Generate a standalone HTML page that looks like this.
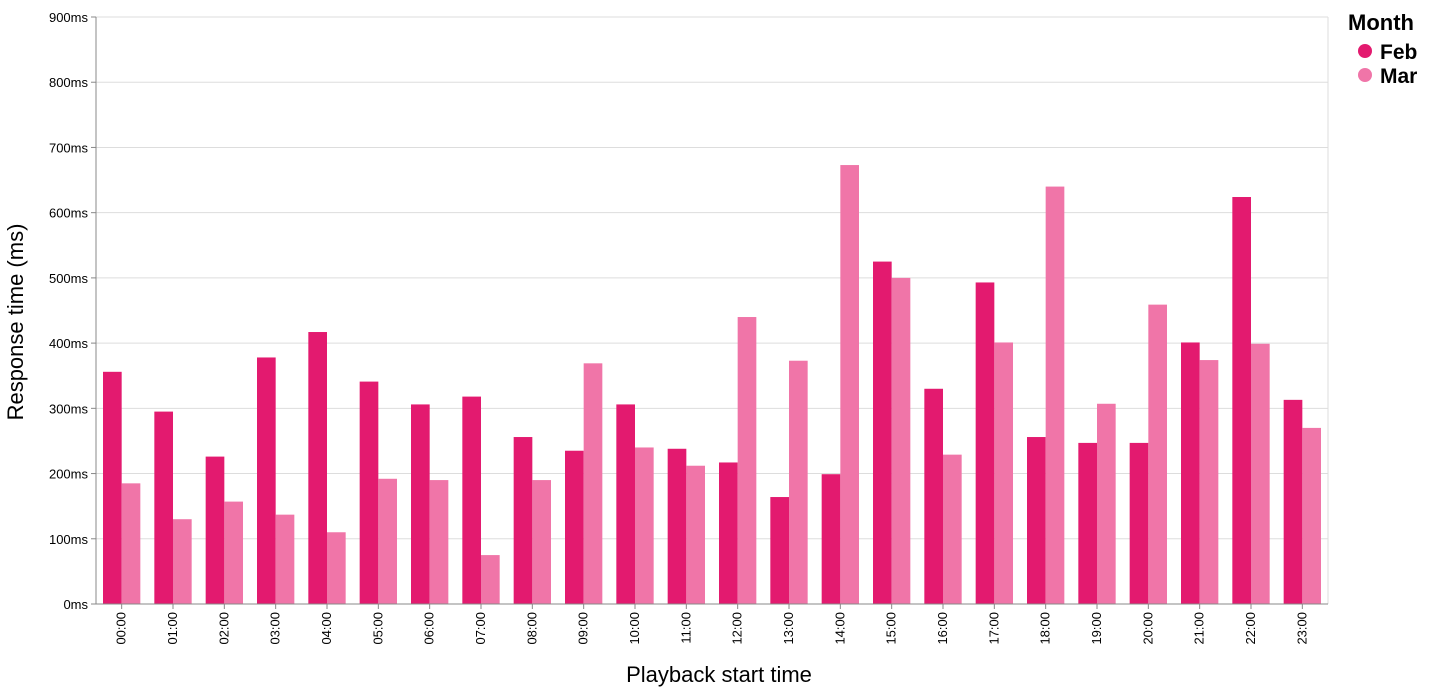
<!DOCTYPE html>
<html><head><meta charset="utf-8"><style>
body{margin:0;background:#fff;}
svg{display:block;font-family:"Liberation Sans",sans-serif;}
</style></head><body>
<svg id="chart" width="1444" height="690"></svg>
<script>
const categories=["00:00","01:00","02:00","03:00","04:00","05:00","06:00","07:00","08:00","09:00","10:00","11:00","12:00","13:00","14:00","15:00","16:00","17:00","18:00","19:00","20:00","21:00","22:00","23:00"];
const febValues=[356,295,226,378,417,341,306,318,256,235,306,238,217,164,199,525,330,493,256,247,247,401,624,313];
const marValues=[185,130,157,137,110,192,190,75,190,369,240,212,440,373,673,500,229,401,640,307,459,374,399,270];
const yTicks=[0,100,200,300,400,500,600,700,800,900];
const NS="http://www.w3.org/2000/svg";
const svg=document.getElementById('chart');
const X0=96,X1=1328,Y0=604,Y1=17,YMAX=900;
const bw=(X1-X0)/categories.length;
const y=v=>Y0-(v/YMAX)*(Y0-Y1);
const xb=i=>X0+i*bw;
function mk(t,a){const e=document.createElementNS(NS,t);for(const k in a)e.setAttribute(k,a[k]);svg.appendChild(e);return e;}
yTicks.forEach(t=>{
  const g=mk('line',{x1:X0,x2:X1,y1:y(t),y2:y(t),stroke:'#ddd','stroke-width':1});
  
  
  const tk=mk('line',{x1:X0-5,x2:X0,y1:y(t),y2:y(t),stroke:'#888'});
  
  
  const l=mk('text',{x:X0-8,y:y(t)+5,'text-anchor':'end','font-size':13,fill:'#000'});
  l.textContent=t+'ms';
  
  
});
mk('line',{x1:X1,x2:X1,y1:Y1,y2:Y0,stroke:'#ddd'});
const pad=7, inner=(bw-2*pad)/2;
categories.forEach((c,i)=>{
  const b1=mk('rect',{x:xb(i)+pad,y:y(febValues[i]),width:inner,height:Y0-y(febValues[i]),fill:'#e31a6f'});
  
  
  const b2=mk('rect',{x:xb(i)+pad+inner,y:y(marValues[i]),width:inner,height:Y0-y(marValues[i]),fill:'#f075a8'});
  
  
  const cx=xb(i)+bw/2;
  const tk=mk('line',{x1:cx,x2:cx,y1:Y0,y2:Y0+5,stroke:'#888'});
  
  
  const l=mk('text',{x:cx+4,y:Y0+8,'text-anchor':'end','font-size':13,transform:`rotate(-90 ${cx+4} ${Y0+8})`});
  l.textContent=c;
  
  
});
mk('line',{x1:X0,x2:X0,y1:Y1,y2:Y0,stroke:'#888'});
mk('line',{x1:X0,x2:X1,y1:Y0,y2:Y0,stroke:'#888'});
const xt=mk('text',{x:719,y:682,'text-anchor':'middle','font-size':22,'font-weight':'500'});
xt.textContent='Playback start time';


const yt=mk('text',{x:23,y:322,'text-anchor':'middle','font-size':22,transform:'rotate(-90 23 322)'});
yt.textContent='Response time (ms)';


const lt=mk('text',{x:1348,y:30,'font-size':22,'font-weight':'bold'});
lt.textContent='Month';


[['Feb','#e31a6f',51],['Mar','#f075a8',75]].forEach(([n,c,yy])=>{
  const d=mk('circle',{cx:1365,cy:yy,r:7,fill:c});
  
  
  const t=mk('text',{x:1380,y:yy+8,'font-size':21,'font-weight':'bold'});
  t.textContent=n;
  
  
});
</script>
</body></html>
